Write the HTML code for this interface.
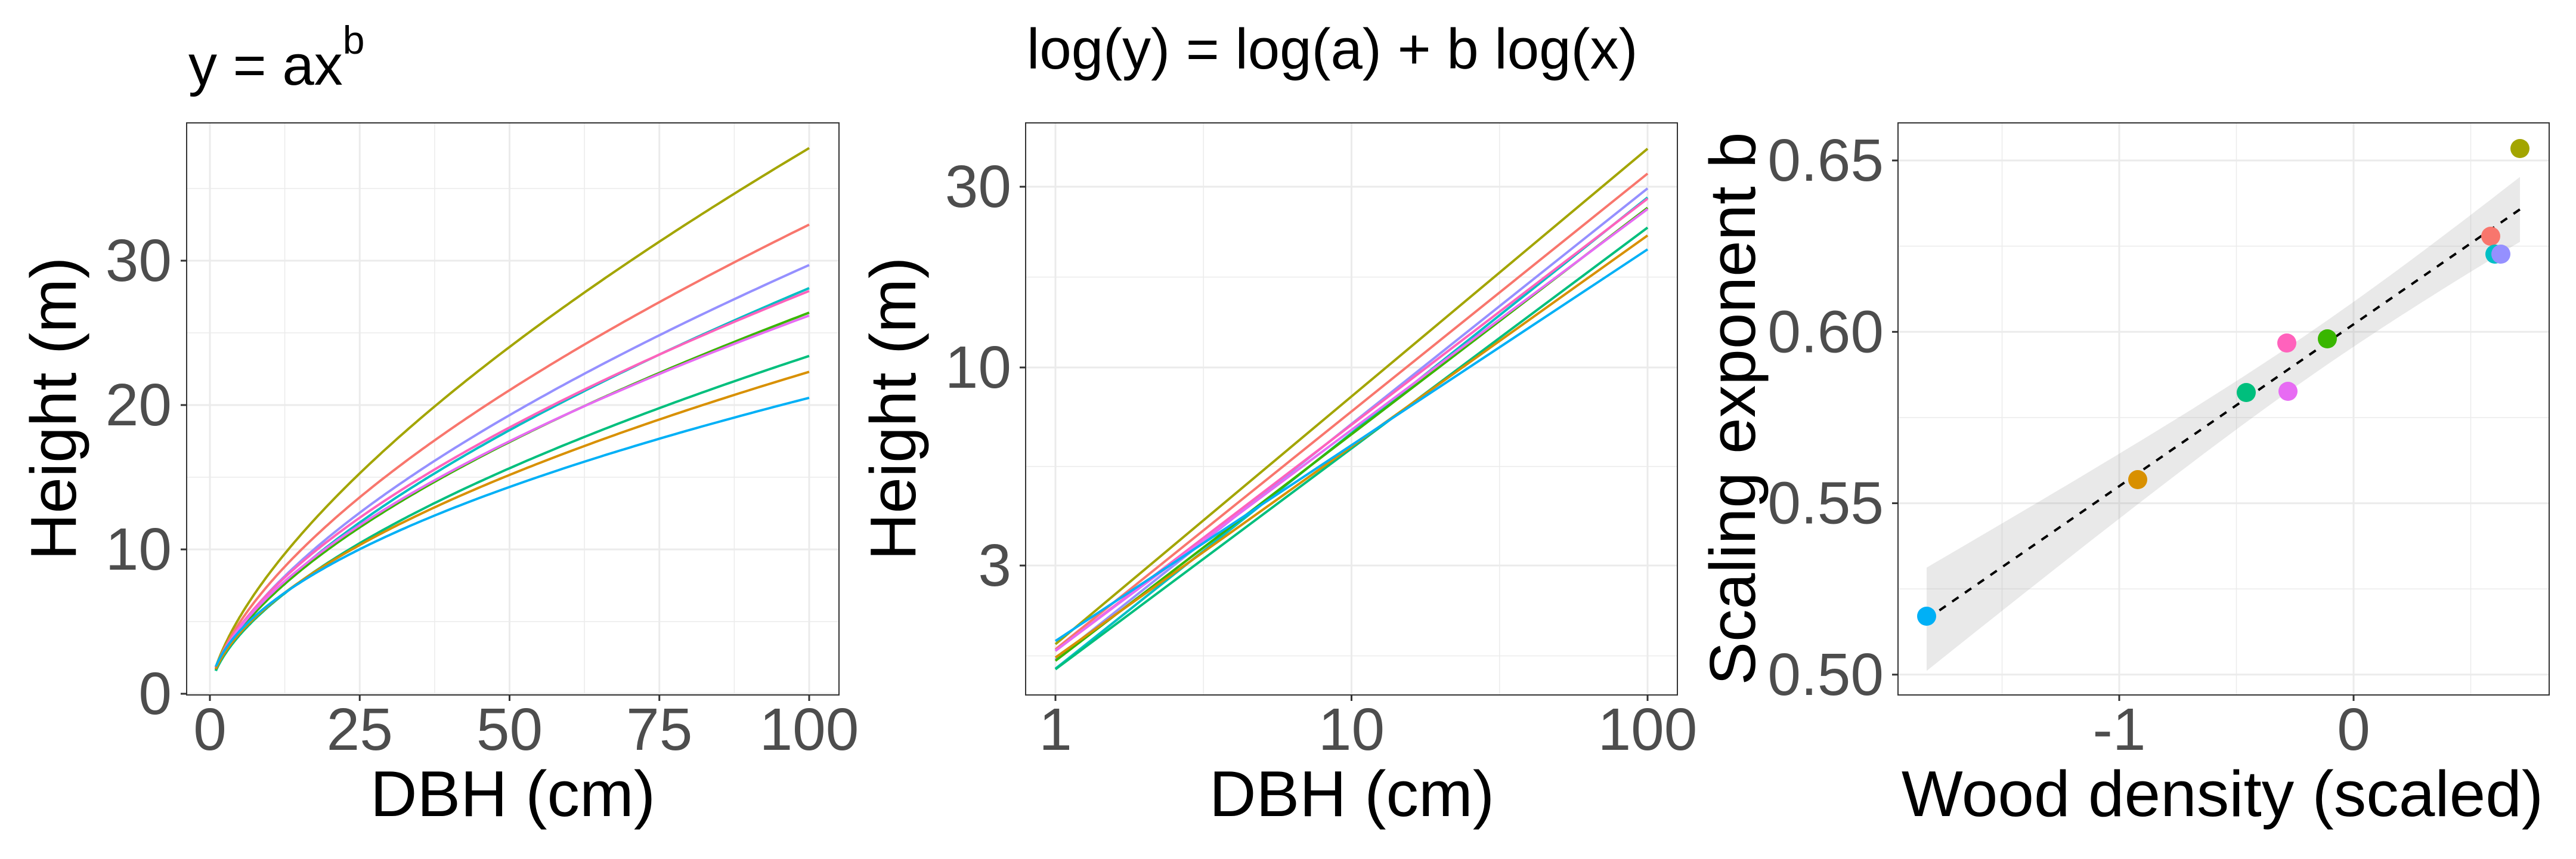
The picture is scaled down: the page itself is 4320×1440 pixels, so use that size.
<!DOCTYPE html>
<html><head><meta charset="utf-8"><style>
html,body{margin:0;padding:0;background:#fff}
svg{display:block}
text{font-family:"Liberation Sans",Arial,sans-serif}
</style></head><body>
<svg id="s" width="4320" height="1440" viewBox="0 0 4320 1440" xmlns="http://www.w3.org/2000/svg">
<rect width="4320" height="1440" fill="#fff"/>
<g id="g"></g>
<text x="316" y="142" font-size="96" fill="#000">y = ax<tspan font-size="66" dy="-52">b</tspan></text>
<text x="1722" y="115" font-size="96" fill="#000">log(y) = log(a) + b log(x)</text>
<text transform="translate(127,685) rotate(-90)" text-anchor="middle" font-size="109" fill="#000">Height (m)</text>
<text x="860" y="1368" text-anchor="middle" font-size="109" fill="#000">DBH (cm)</text>
<text transform="translate(1535,685) rotate(-90)" text-anchor="middle" font-size="109" fill="#000">Height (m)</text>
<text x="2267" y="1368" text-anchor="middle" font-size="109" fill="#000">DBH (cm)</text>
<text transform="translate(2943,685) rotate(-90)" text-anchor="middle" font-size="109" fill="#000">Scaling exponent b</text>
<text x="3727" y="1368" text-anchor="middle" font-size="109" fill="#000">Wood density (scaled)</text>
</svg>
<script>
var g=document.getElementById('g'),o='';
function L(x1,y1,x2,y2,c,w,extra){o+='<line x1="'+x1+'" y1="'+y1+'" x2="'+x2+'" y2="'+y2+'" stroke="'+c+'" stroke-width="'+w+'" '+(extra||'')+'/>';}
function T(x,y,s,anchor){o+='<text x="'+x+'" y="'+y+'" font-size="100" fill="#4D4D4D" text-anchor="'+anchor+'" dominant-baseline="central">'+s+'</text>';}
var TOP=206,BOT=1165,MJ='#EBEBEB';
var S=[
 ['#A3A500',0.654,37.8],['#F8766D',0.628,32.5],['#9590FF',0.622,29.7],['#00BFC4',0.622,28.1],
 ['#FF62BC',0.597,27.9],['#39B600',0.598,26.4],['#E76BF3',0.583,26.2],['#00BF7D',0.583,23.4],
 ['#D89000',0.557,22.3],['#00B0F6',0.517,20.5]];
S.forEach(function(s){s.push(s[2]/Math.pow(100,s[1]));});
var l1=313,r1=1407;
function px1(x){return 352+x*10.05;} function py1(h){return 1163-h*24.2;}
[12.5,37.5,62.5,87.5].forEach(function(v){L(px1(v),TOP,px1(v),BOT,MJ,1.5);});
[5,15,25,35].forEach(function(v){L(l1,py1(v),r1,py1(v),MJ,1.5);});
[0,25,50,75,100].forEach(function(v){L(px1(v),TOP,px1(v),BOT,MJ,3);L(px1(v),BOT,px1(v),BOT+10,'#333',3);T(px1(v),1223,v,'middle');});
[0,10,20,30].forEach(function(v){L(l1,py1(v),r1,py1(v),MJ,3);L(l1-10,py1(v),l1,py1(v),'#333',3);T(288,py1(v),v,'end');});
S.forEach(function(s){var d='';for(var i=0;i<=200;i++){var x=1+99*Math.pow(i/200,2);d+=(i?'L':'M')+px1(x).toFixed(1)+','+py1(s[3]*Math.pow(x,s[1])).toFixed(1);}
 o+='<path d="'+d+'" fill="none" stroke="'+s[0]+'" stroke-width="4"/>';});
o+='<rect x="'+l1+'" y="'+TOP+'" width="'+(r1-l1)+'" height="'+(BOT-TOP)+'" fill="none" stroke="#333" stroke-width="2"/>';
var l2=1720,r2=2813;
function px2(x){return 1770+Math.log10(x)*496.5;} function py2(h){return 616-(Math.log10(h)-1)*635;}
[Math.sqrt(10),Math.sqrt(1000)].forEach(function(v){L(px2(v),TOP,px2(v),BOT,MJ,1.5);});
[Math.sqrt(300),Math.sqrt(30),Math.sqrt(3)].forEach(function(v){L(l2,py2(v),r2,py2(v),MJ,1.5);});
[1,10,100].forEach(function(v){L(px2(v),TOP,px2(v),BOT,MJ,3);L(px2(v),BOT,px2(v),BOT+10,'#333',3);T(px2(v),1223,v,'middle');});
[3,10,30].forEach(function(v){L(l2,py2(v),r2,py2(v),MJ,3);L(l2-10,py2(v),l2,py2(v),'#333',3);T(1696,py2(v),v,'end');});
S.forEach(function(s){L(px2(1),py2(s[3]).toFixed(1),px2(100),py2(s[2]).toFixed(1),s[0],4);});
o+='<rect x="'+l2+'" y="'+TOP+'" width="'+(r2-l2)+'" height="'+(BOT-TOP)+'" fill="none" stroke="#333" stroke-width="2"/>';
var l3=3183,r3=4275;
function px3(x){return 3947+x*393;} function py3(b){return 269+(0.65-b)/0.05*287.3;}
[-1.5,-0.5,0.5].forEach(function(v){L(px3(v),TOP,px3(v),BOT,MJ,1.5);});
[0.525,0.575,0.625].forEach(function(v){L(l3,py3(v),r3,py3(v),MJ,1.5);});
[-1,0].forEach(function(v){L(px3(v),TOP,px3(v),BOT,MJ,3);L(px3(v),BOT,px3(v),BOT+10,'#333',3);T(px3(v),1223,v,'middle');});
['0.50','0.55','0.60','0.65'].forEach(function(v){var y=py3(+v);L(l3,y,r3,y,MJ,3);L(l3-10,y,l3,y,'#333',3);T(3159,y,v,'end');});
function ly(x){return 1018+(x-3260)*(-0.6905);}
function hw(x){return Math.sqrt(37*37+0.0141*(x-3890)*(x-3890));}
var up='',dn='';for(var i=0;i<=60;i++){var x=3231+(4226-3231)*i/60;up+=(i?'L':'M')+x.toFixed(1)+','+(ly(x)-hw(x)).toFixed(1);}
for(var i=60;i>=0;i--){var x=3231+(4226-3231)*i/60;dn+='L'+x.toFixed(1)+','+(ly(x)+hw(x)).toFixed(1);}
o+='<path d="'+up+dn+'Z" fill="#999" fill-opacity="0.22"/>';
L(3231,ly(3231),4226,ly(4226),'#000',4,'stroke-dasharray="13,13"');
[['#00B0F6',3231,1033],['#D89000',3585,804],['#00BF7D',3767,658],['#FF62BC',3835,575],['#E76BF3',3837,656],['#39B600',3903,568],['#F8766D',4177,396],['#00BFC4',4184,426],['#9590FF',4194,426],['#A3A500',4226,249]].forEach(function(p){o+='<circle cx="'+p[1]+'" cy="'+p[2]+'" r="16" fill="'+p[0]+'"/>';});
o+='<rect x="'+l3+'" y="'+TOP+'" width="'+(r3-l3)+'" height="'+(BOT-TOP)+'" fill="none" stroke="#333" stroke-width="2"/>';
g.innerHTML=o;
</script>
</body></html>
